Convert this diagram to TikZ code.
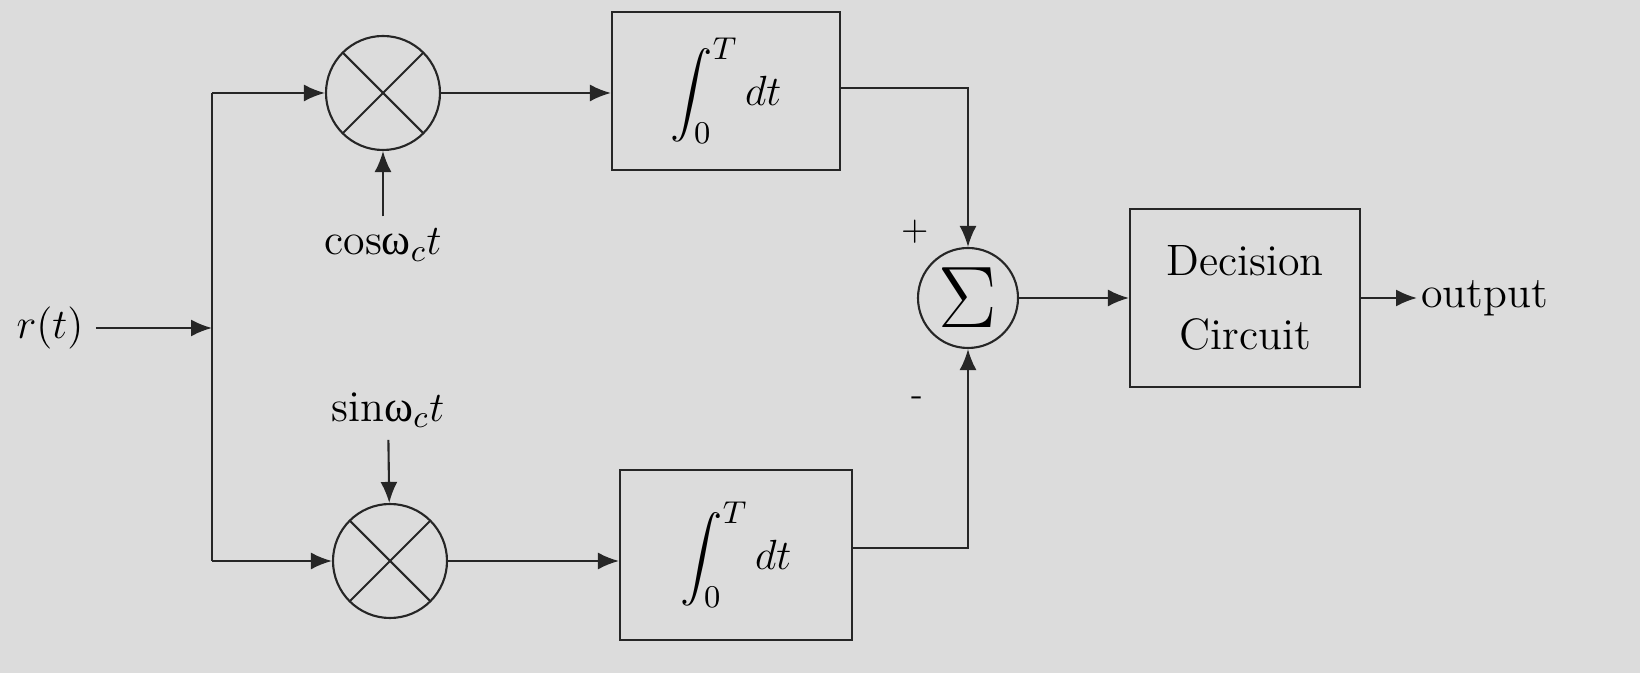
\documentclass[tikz,border=0pt]{standalone}
\usepackage{amsmath}
\usepackage{fontspec}
\newfontfamily\greekfont{Liberation Serif}
\usepackage{tikz}
\usetikzlibrary{arrows.meta, positioning}
\tikzset{>={Latex[width=1.7mm,length=2.1mm]}}
\tikzset{
    mult/.style={draw=black!85, line width=0.6pt, circle, minimum size=1.14cm, inner sep=0pt,
        path picture={
            \draw[black!85, line width=0.6pt] (path picture bounding box.north west) -- (path picture bounding box.south east);
            \draw[black!85, line width=0.6pt] (path picture bounding box.south west) -- (path picture bounding box.north east);
        }},
    block/.style={draw=black!85, line width=0.6pt, inner sep=0pt},
    wire/.style={draw=black!85, line width=0.6pt},
    sign/.style={font=\fontsize{10}{12}\selectfont, inner sep=1pt},
}
\definecolor{bg}{RGB}{220,220,220}
\newcommand{\upomega}{\text{\greekfont ω}}

\begin{document}
\begin{tikzpicture}[font=\fontsize{12.5}{15}\selectfont]
    \fill[bg] (0,0) rectangle (16.4,6.73);
    \useasboundingbox (0,0) rectangle (16.4,6.73);

    \node (rt) at (0.50,3.45) {$r(t)$};
    \coordinate (split) at (2.12,3.45);
    \coordinate (split-Top) at (2.12,5.80);
    \coordinate (split-Bot) at (2.12,1.12);

    \node[mult] (MUL-Top) at (3.83,5.80) {};
    \node[mult] (MUL-Bot) at (3.90,1.12) {};
    \node (cos) at (3.83,4.28) {$\mathrm{cos}\upomega_c t$};
    \node (sin) at (3.88,2.63) {$\mathrm{sin}\upomega_c t$};

    \node[block, minimum width=2.28cm, minimum height=1.58cm] (INT-Top) at (7.26,5.82)
        {\fontsize{13}{16}\selectfont$\displaystyle\int_0^T dt$};
    \node[block, minimum width=2.32cm, minimum height=1.70cm] (INT-Bot) at (7.36,1.18)
        {\fontsize{13}{16}\selectfont$\displaystyle\int_0^T dt$};

    \node[draw=black!85, line width=0.6pt, circle, minimum size=1.0cm, inner sep=0pt] (SUM) at (9.68,3.75)
        {\fontsize{23}{26}\selectfont$\Sigma$};
    \node[sign] (plus) at (9.15,4.41) {+};
    \node[sign] (minus) at (9.17,2.72) {-};

    \node[block, minimum width=2.30cm, minimum height=1.78cm, align=center] (DEC) at (12.45,3.75)
        {Decision\\[0.22cm]Circuit};
    \node[anchor=west, inner sep=1pt] (out) at (14.17,3.75) {output};

    \draw[wire,->] (rt) -- (split);
    \draw[wire] (split-Top) -- (split-Bot);
    \draw[wire,->] (split-Top) -- (MUL-Top);
    \draw[wire,->] (split-Bot) -- (MUL-Bot);
    \draw[wire,->] (cos) -- (MUL-Top);
    \draw[wire,->] (sin) -- (MUL-Bot);
    \draw[wire,->] (MUL-Top) -- (MUL-Top -| INT-Top.west);
    \draw[wire,->] (MUL-Bot) -- (MUL-Bot -| INT-Bot.west);
    \draw[wire,->] (INT-Top.east |- 0,5.85) -| (SUM.north);
    \draw[wire,->] (INT-Bot.east |- 0,1.25) -| (SUM.south);
    \draw[wire,->] (SUM) -- (DEC);
    \draw[wire,->] (DEC) -- (out);
\end{tikzpicture}
\end{document}
